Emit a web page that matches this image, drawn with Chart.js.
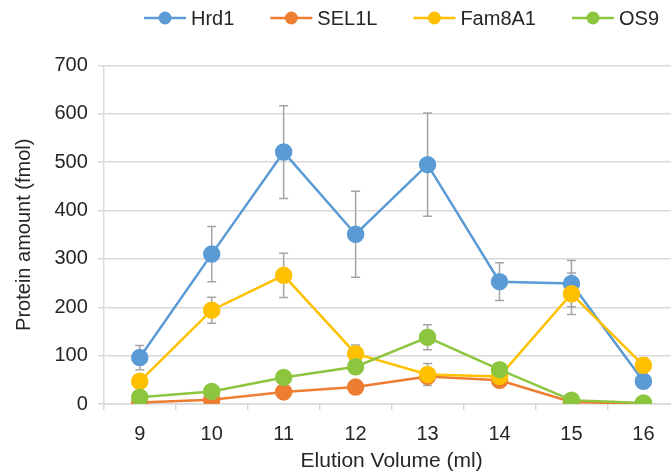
<!DOCTYPE html>
<html>
<head>
<meta charset="utf-8">
<script src="https://cdn.jsdelivr.net/npm/chart.js@4"></script>
<style>
  html, body { margin: 0; padding: 0; background: #fff; overflow: hidden; }
  #wrap { position: relative; width: 690px; height: 472px; }
</style>
</head>
<body>
<div id="wrap"><canvas id="chart"></canvas></div>
<script>
// elution volumes (ml)
const volumes = ['9', '10', '11', '12', '13', '14', '15', '16'];

// protein amounts (fmol)
const hrd1   = [96, 310, 521, 351, 495, 253, 249, 47];
const sel1l  = [3, 9, 25, 35, 57, 49, 4, 1];
const fam8a1 = [47, 194, 266, 104, 61, 57, 228, 80];
const os9    = [14, 26, 55, 77, 138, 71, 8, 2];

// error bar half-heights
const hrd1Err   = [25, 57, 96, 89, 107, 39, 48, 10];
const sel1lErr  = [0, 0, 0, 0, 0, 0, 0, 0];
const fam8a1Err = [0, 27, 46, 18, 23, 0, 43, 15];
const os9Err    = [0, 0, 0, 0, 26, 0, 0, 0];

const yTicks = [0, 100, 200, 300, 400, 500, 600, 700];

const FONT = "'Liberation Sans', Arial, sans-serif";
const TEXT = '#262626';
const GRID = '#d9d9d9';

function series(label, data, errors, color, order) {
    return {
        label: label,
        data: data,
        errors: errors,
        borderColor: color,
        backgroundColor: color,
        pointBackgroundColor: color,
        pointBorderColor: color,
        borderWidth: 2.5,
        pointRadius: 7.5,
        pointHoverRadius: 7.5,
        tension: 0,
        order: order
    };
}

// error bars, drawn under the lines
const errorBars = {
    id: 'errorBars',
    beforeDatasetsDraw(chart) {
        const ctx = chart.ctx;
        const y = chart.scales.y;
        ctx.save();
        ctx.strokeStyle = '#a5a5a5';
        ctx.lineWidth = 1.5;
        chart.data.datasets.forEach((ds, i) => {
            const meta = chart.getDatasetMeta(i);
            ds.errors.forEach((e, j) => {
                if (!e) return;
                const x = meta.data[j].x;
                const top = y.getPixelForValue(ds.data[j] + e);
                const bot = y.getPixelForValue(Math.max(ds.data[j] - e, 0));
                ctx.beginPath();
                ctx.moveTo(x, top); ctx.lineTo(x, bot);
                ctx.moveTo(x - 4.5, top); ctx.lineTo(x + 4.5, top);
                ctx.moveTo(x - 4.5, bot); ctx.lineTo(x + 4.5, bot);
                ctx.stroke();
            });
        });
        ctx.restore();
    }
};

// excel style legend: line with a dot, then the name
const lineLegend = {
    id: 'lineLegend',
    afterDraw(chart) {
        const ctx = chart.ctx;
        const lineLen = 42, textGap = 5, itemGap = 36, cy = 18;
        ctx.save();
        ctx.font = '20px ' + FONT;
        ctx.textBaseline = 'middle';
        ctx.textAlign = 'left';
        const items = chart.data.datasets.map(ds => ({ ds, w: ctx.measureText(ds.label).width }));
        const total = items.reduce((s, it) => s + lineLen + textGap + it.w, 0) + itemGap * (items.length - 1);
        let x = 401.5 - total / 2;
        items.forEach(it => {
            const c = it.ds.borderColor;
            ctx.strokeStyle = c;
            ctx.lineWidth = 2.5;
            ctx.beginPath();
            ctx.moveTo(x, cy); ctx.lineTo(x + lineLen, cy);
            ctx.stroke();
            ctx.fillStyle = c;
            ctx.beginPath();
            ctx.arc(x + lineLen / 2, cy, 6.5, 0, Math.PI * 2);
            ctx.fill();
            ctx.fillStyle = TEXT;
            ctx.fillText(it.ds.label, x + lineLen + textGap, cy + 1);
            x += lineLen + textGap + it.w + itemGap;
        });
        ctx.restore();
    }
};

const ctx = document.getElementById('chart').getContext('2d');
const chart = new Chart(ctx, {
    type: 'line',
    data: {
        labels: volumes,
        datasets: [
            series('Hrd1', hrd1, hrd1Err, '#5b9bd5', 4),
            series('SEL1L', sel1l, sel1lErr, '#ed7d31', 3),
            series('Fam8A1', fam8a1, fam8a1Err, '#ffc000', 2),
            series('OS9', os9, os9Err, '#8cc63f', 1)
        ]
    },
    options: {
        responsive: true,
        maintainAspectRatio: false,
        animation: false,
        layout: {
            padding: { top: 65.5, right: 10.6, left: 12, bottom: 0 }
        },
        plugins: {
            legend: { display: false },
            tooltip: { enabled: false }
        },
        scales: {
            x: {
                type: 'category',
                offset: true,
                grid: {
                    offset: true,
                    drawOnChartArea: false,
                    drawTicks: true,
                    tickLength: 6,
                    color: GRID,
                    lineWidth: 1.5
                },
                border: { display: true, color: GRID, width: 1.5 },
                ticks: {
                    color: TEXT,
                    font: { family: FONT, size: 20 },
                    padding: 12
                },
                title: {
                    display: true,
                    text: 'Elution Volume (ml)',
                    color: TEXT,
                    font: { family: FONT, size: 21, lineHeight: 1.0 },
                    padding: { top: -7, bottom: 0 }
                }
            },
            y: {
                min: 0,
                max: 700,
                afterBuildTicks: axis => { axis.ticks = yTicks.map(v => ({ value: v })); },
                grid: {
                    color: GRID,
                    lineWidth: 1.5,
                    tickLength: 6
                },
                border: { display: true, color: GRID, width: 1.5 },
                ticks: {
                    color: TEXT,
                    font: { family: FONT, size: 20 },
                    padding: 10
                },
                title: {
                    display: true,
                    text: 'Protein amount (fmol)',
                    color: TEXT,
                    font: { family: FONT, size: 20 },
                    padding: { top: 0, bottom: 8.4 }
                }
            }
        }
    },
    plugins: [errorBars, lineLegend]
});
</script>
</body>
</html>
